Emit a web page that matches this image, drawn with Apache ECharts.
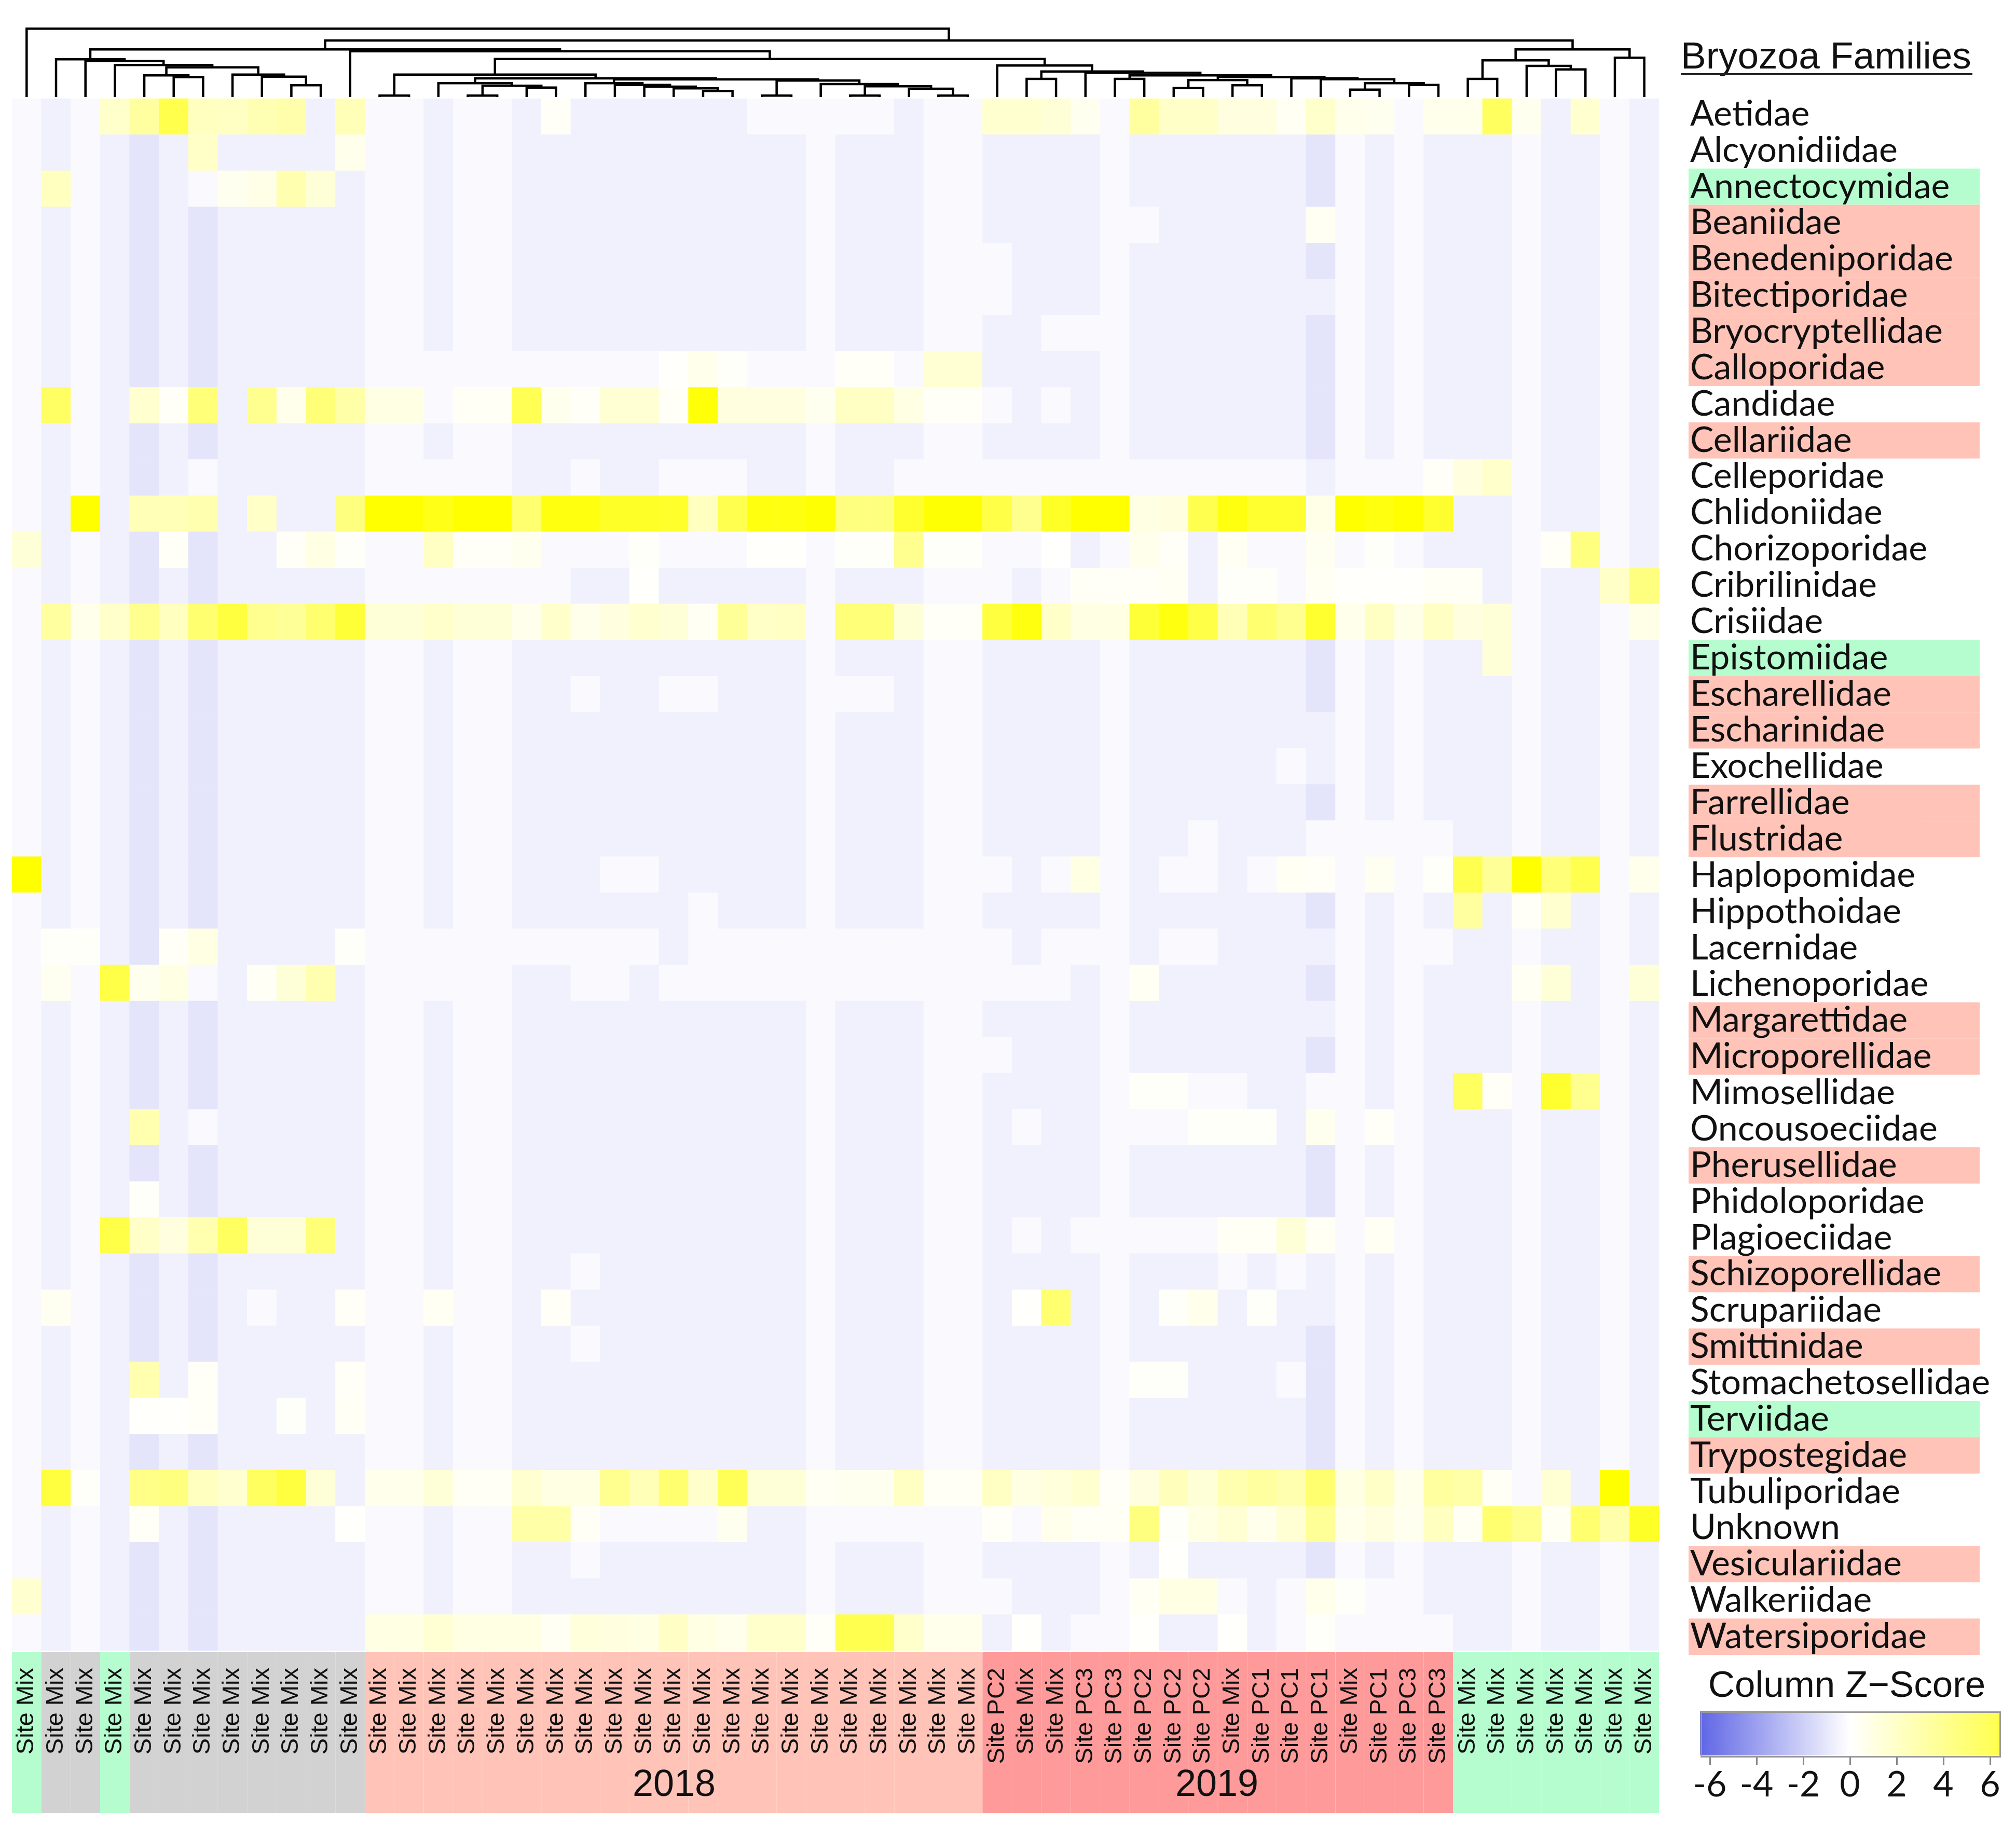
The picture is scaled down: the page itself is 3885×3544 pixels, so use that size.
<!DOCTYPE html>
<html>
<head>
<meta charset="utf-8">
<style>html,body{margin:0;padding:0;background:#fff}#c{width:3885px;height:3544px}</style>
<script src="https://cdn.jsdelivr.net/npm/echarts@6/dist/echarts.min.js"></script>
</head>
<body>
<div id="c"></div>
<script>
const families = ['Aetidae','Alcyonidiidae','Annectocymidae','Beaniidae','Benedeniporidae','Bitectiporidae','Bryocryptellidae','Calloporidae','Candidae','Cellariidae','Celleporidae','Chlidoniidae','Chorizoporidae','Cribrilinidae','Crisiidae','Epistomiidae','Escharellidae','Escharinidae','Exochellidae','Farrellidae','Flustridae','Haplopomidae','Hippothoidae','Lacernidae','Lichenoporidae','Margarettidae','Microporellidae','Mimosellidae','Oncousoeciidae','Pherusellidae','Phidoloporidae','Plagioeciidae','Schizoporellidae','Scrupariidae','Smittinidae','Stomachetosellidae','Terviidae','Trypostegidae','Tubuliporidae','Unknown','Vesiculariidae','Walkeriidae','Watersiporidae'];
const familyGroups = ['','','g','s','s','s','s','s','','s','','','','','','g','s','s','','s','s','','','','','s','s','','','s','','','s','','s','','g','s','','','s','','s'];
const sampleLabels = ['Site Mix','Site Mix','Site Mix','Site Mix','Site Mix','Site Mix','Site Mix','Site Mix','Site Mix','Site Mix','Site Mix','Site Mix',
 'Site Mix','Site Mix','Site Mix','Site Mix','Site Mix','Site Mix','Site Mix','Site Mix','Site Mix','Site Mix','Site Mix','Site Mix','Site Mix','Site Mix','Site Mix','Site Mix','Site Mix','Site Mix','Site Mix','Site Mix','Site Mix',
 'Site PC2','Site Mix','Site Mix','Site PC3','Site PC3','Site PC2','Site PC2','Site PC2','Site Mix','Site PC1','Site PC1','Site PC1','Site Mix','Site PC1','Site PC3','Site PC3',
 'Site Mix','Site Mix','Site Mix','Site Mix','Site Mix','Site Mix','Site Mix'];
const sampleGroups = ['g','k','k','g','k','k','k','k','k','k','k','k',
 's','s','s','s','s','s','s','s','s','s','s','s','s','s','s','s','s','s','s','s','s',
 'r','r','r','r','r','r','r','r','r','r','r','r','r','r','r','r',
 'g','g','g','g','g','g','g'];
const groupColors = {g:'#b5fdcf',k:'#d2d2d2',s:'#ffc3b8',r:'#ff9a9a'};
const colorbarTicks = [-6,6];

// z-score levels of the empty (zero count) cell in each column
const L=-0.24, M=-0.6, D=-1.1;
const columnEmptyZ = [L,M,L,M,D,M,D,M,M,M,M,M,L,L,M,L,L,M,M,M,M,M,M,M,M,M,M,L,M,M,M,L,L,M,M,M,M,L,M,M,M,M,M,M,D,L,M,L,M,M,M,L,M,M,L,M];

// per family: column, z-score pairs for the cells that differ from the column's empty level
const cellZ = [
/*Aetidae*/[3,1.3,4,2.4,5,4.5,6,1.6,7,1.5,8,1.9,9,2.1,11,1.8,18,.2,25,L,26,L,28,L,29,L,33,1.2,34,1.2,35,1,36,.4,38,2.4,39,1.4,40,1.4,41,.8,42,.8,43,.3,44,1.3,45,.5,46,.4,48,.5,49,.5,50,4,51,.4,53,1.2],
/*Alcyonidiidae*/[6,1.4,11,.5],
/*Annectocymidae*/[1,1.6,6,L,7,.4,8,.6,9,2,10,1],
/*Beaniidae*/[38,L,44,.3],
/*Benedeniporidae*/[33,L],
/*Bitectiporidae*/[33,L,44,M],
/*Bryocryptellidae*/[35,L,36,L],
/*Calloporidae*/[14,L,17,L,18,L,19,L,20,L,21,L,22,.1,23,.5,24,.15,25,L,26,L,28,.2,29,.2,30,L,31,1.1,32,1.1],
/*Candidae*/[1,3.9,4,1.2,5,.2,6,3.4,8,2.8,9,.5,10,3.4,11,2.2,12,.7,13,.7,14,L,15,.25,16,.25,17,4.3,18,.45,19,.2,20,1.1,21,1.1,22,.2,23,6.2,24,.8,25,.8,26,.8,27,.4,28,1.5,29,1.5,30,.7,31,.2,32,.2,33,L,35,L],
/*Cellariidae*/[],
/*Celleporidae*/[6,L,14,L,19,L,22,L,23,L,24,L,30,L,33,L,34,L,35,L,36,L,38,L,39,L,40,L,41,L,42,L,43,L,44,M,46,L,48,.2,49,.8,50,1.3],
/*Chlidoniidae*/[2,6.4,4,1.8,5,1.8,6,2,8,1.4,11,3.2,12,6.4,13,6.4,14,5.8,15,6.4,16,6.4,17,3.6,18,6,19,6,20,5.4,21,5.4,22,5.3,23,1.6,24,4.4,25,6,26,6,27,6.3,28,3.2,29,3.2,30,5.2,31,6.3,32,6.3,33,4.6,34,2.8,35,5.4,36,6.4,37,6.4,38,.7,39,.8,40,4.4,41,6,42,5.2,43,5.2,44,.6,45,6.4,46,6,47,6.4,48,5.2],
/*Chorizoporidae*/[0,1,5,.2,9,.2,10,.7,11,.15,14,1.5,15,.2,16,.2,17,.4,18,L,19,L,20,L,21,.15,22,L,23,L,24,L,25,.1,26,.1,28,.15,29,.15,30,2.8,31,.15,32,.15,33,L,34,L,35,.05,38,.5,39,.2,41,.3,42,L,43,L,44,.35,46,.15,52,.2,53,3.2],
/*Cribrilinidae*/[14,L,17,L,18,L,21,.1,33,L,35,L,36,.25,37,.2,38,.2,39,.3,41,.15,42,.15,43,L,44,.3,45,.1,46,.1,47,.1,48,.25,49,.25,54,1.4,55,3.2],
/*Crisiidae*/[1,2.4,2,.5,3,1.3,4,2.8,5,1.6,6,3.6,7,4.8,8,2.8,9,2.6,10,3.6,11,5,12,1,13,1,14,1.3,15,1,16,1,17,.5,18,1.3,19,.5,20,.8,21,1.2,22,1,23,.3,24,2.6,25,1.4,26,1.5,28,3.4,29,3.4,30,1,31,.2,32,.2,33,4.8,34,6,35,1.4,36,.7,37,.7,38,5,39,6,40,4.6,41,1.8,42,3.6,43,2.8,44,5.2,45,.5,46,1.5,47,.6,48,1.5,49,.8,50,1,55,.6],
/*Epistomiidae*/[50,1],
/*Escharellidae*/[19,L,22,L,23,L,28,L,29,L],
/*Escharinidae*/[44,M],
/*Exochellidae*/[43,L,44,M],
/*Farrellidae*/[],
/*Flustridae*/[40,L,44,L,46,L,48,L],
/*Haplopomidae*/[0,6.4,20,L,21,L,33,L,35,L,36,.7,39,L,40,L,42,L,43,.3,44,.2,46,.35,48,.15,49,4.4,50,2.6,51,6.4,52,3.4,53,4.4,55,.5],
/*Hippothoidae*/[23,L,49,2.4,51,.2,52,1.2],
/*Lacernidae*/[1,.15,2,.15,5,.2,6,.7,11,.15,14,L,17,L,18,L,19,L,20,L,21,L,23,L,24,L,25,L,26,L,28,L,29,L,30,L,33,L,35,L,36,L,39,L,40,L,44,M,48,L],
/*Lichenoporidae*/[1,.35,3,4.6,4,.4,5,.7,6,L,8,.25,9,1,10,2,14,L,19,L,20,L,22,L,23,L,24,L,25,L,26,L,28,L,29,L,30,L,33,L,34,L,35,L,38,.3,51,.3,52,1,55,1],
/*Margarettidae*/[44,M],
/*Microporellidae*/[33,L],
/*Mimosellidae*/[38,.15,39,.15,40,L,41,L,44,L,49,4,50,.2,52,5.2,53,2.8],
/*Oncousoeciidae*/[4,2,6,L,34,L,38,L,39,L,40,.15,41,.15,42,.15,44,.4,46,.2],
/*Pherusellidae*/[],
/*Phidoloporidae*/[4,.15],
/*Plagioeciidae*/[3,4.6,4,1.4,5,.8,6,2,7,4,8,1,9,1,10,3.4,34,L,36,L,37,L,38,L,39,L,40,L,41,.25,42,.25,43,1,44,.3,46,.3],
/*Schizoporellidae*/[19,L,41,L,43,L,44,M],
/*Scrupariidae*/[1,.35,8,L,11,.2,14,.3,18,.2,34,.1,35,3.6,39,.15,40,.5,42,.15,44,M],
/*Smittinidae*/[19,L],
/*Stomachetosellidae*/[4,2,6,.2,11,.2,38,.15,39,.15,43,L],
/*Terviidae*/[4,.1,5,.1,6,.2,9,.15,11,.25],
/*Trypostegidae*/[],
/*Tubuliporidae*/[1,4.8,2,.15,4,3,5,3.2,6,1.6,7,1.2,8,4,9,4.8,10,1,12,.5,13,.5,14,1,15,.25,16,.25,17,1.2,18,.7,19,.7,20,2.8,21,1.8,22,3.6,23,1.3,24,4.2,25,1,26,1,27,.3,28,.4,29,.4,30,1.5,31,.25,32,.25,33,1.5,34,.7,35,.9,36,1.2,37,.2,38,.8,39,1.7,40,1,41,2,42,2.4,43,2,44,3.6,45,.7,46,1.4,47,.5,48,2.4,49,2.2,50,.25,52,1.1,54,6.4],
/*Unknown*/[4,.2,11,.1,17,2.2,18,2.2,19,.25,20,L,21,L,22,L,23,L,24,.4,28,L,29,L,30,L,33,.2,34,L,35,.5,36,.25,37,.25,38,3.2,39,.15,40,.7,41,1.1,42,.5,43,1.1,44,2.6,45,.5,46,.8,47,.4,48,1.6,49,.3,50,3.6,51,2.8,52,.3,53,3.6,54,2.1,55,5.4],
/*Vesiculariidae*/[19,L,39,.1],
/*Walkeriidae*/[0,1.2,33,L,38,.3,39,.7,40,.7,41,L,43,L,44,.5,45,.15,46,L],
/*Watersiporidae*/[12,.7,13,.7,14,1.1,15,.7,16,.7,17,.7,18,.3,19,.9,20,.8,21,.7,22,1.45,23,.7,24,.5,25,1.3,26,1.3,27,.2,28,4.4,29,4.4,30,1.3,31,.5,32,.5,34,.1,36,L,38,.1,41,.1,43,L,44,.15,46,L,48,L]
];

// dendrogram: [height, left child, right child]; a number child is a column index
const dendrogram =
[131.7,0,[109,
  [91.7,
    [72.7,1,[69.3,2,[61.7,3,[57.3,
       [41.7,4,[38.3,5,6]],
       [43.3,7,[39.3,8,[22.7,9,10]]]]]]],
    [88.3,11,[73.3,
       [43.3,[2.7,12,13],[36,
          [26.7,14,[21.7,[2.7,15,16],[18.3,17,18]]],
          [34,
            [26.7,19,[23.3,20,[20,21,[16.7,22,[11.7,23,24]]]]],
            [31.7,[2.7,25,26],[25,27,[20.7,[2.7,28,29],[16,30,[2.7,31,32]]]]]]]],
       [60.7,33,[49.3,[35,34,35],[46.7,36,[41.7,[35,37,38],[38.3,
            [32.7,[17.3,39,40],[22.7,41,42]],
            [36,43,[34.3,44,[26.7,[14.3,45,46],[23.3,47,48]]]]]]]]]]]],
  [91.7,[70.7,[35,49,50],[60,51,[53.3,52,53]]],[75.7,54,55]]]];

const heatCells = [];
families.forEach((f, r) => {
  const row = columnEmptyZ.slice();
  const c = cellZ[r];
  for (let i = 0; i < c.length; i += 2) row[c[i]] = c[i + 1];
  row.forEach((v, k) => heatCells.push([k, r, v]));
});

const merges = [];
function walk(n) {
  if (typeof n === 'number') return {x: n + 0.5, h: 0};
  const a = walk(n[1]), b = walk(n[2]);
  merges.push([a.x, b.x, n[0], a.h, b.h]);
  return {x: (a.x + b.x) / 2, h: n[0]};
}
walk(dendrogram);

const sans = '"Liberation Sans"';
const body = 'Lato';
const chart = echarts.init(document.getElementById('c'), null, {renderer: 'canvas', width: 3885, height: 3544});
const hideCat = (data, extra) => Object.assign({type: 'category', data, show: false}, extra || {});

chart.setOption({
  animation: false,
  backgroundColor: '#ffffff',
  title: [
    {text: 'Bryozoa Families', left: 3239, top: 75, textStyle: {fontFamily: sans, fontWeight: 'normal', fontSize: 73, color: '#111'}, padding: 0},
    {text: 'Column Z\u2212Score', left: 3559, top: 3215, textAlign: 'center', textStyle: {fontFamily: sans, fontWeight: 'normal', fontSize: 71, color: '#111'}, padding: 0},
    {text: '2018', left: 1299, top: 3405, textAlign: 'center', textStyle: {fontFamily: sans, fontWeight: 'normal', fontSize: 72, color: '#111'}, padding: 0},
    {text: '2019', left: 2345, top: 3405, textAlign: 'center', textStyle: {fontFamily: sans, fontWeight: 'normal', fontSize: 72, color: '#111'}, padding: 0}
  ],
  grid: [
    {left: 23, top: 190, width: 3174, height: 2991},
    {left: 23, top: 0, width: 3174, height: 187},
    {left: 23, top: 3184, width: 3174, height: 310},
    {left: 3254, top: 185, width: 561, height: 3004},
    {left: 3295, top: 3383, width: 540, height: 1}
  ],
  xAxis: [
    hideCat(sampleLabels, {gridIndex: 0}),
    {type: 'value', gridIndex: 1, min: 0, max: 56, show: false},
    hideCat(sampleLabels, {gridIndex: 2}),
    {type: 'value', gridIndex: 3, min: 0, max: 1, show: false},
    {type: 'value', gridIndex: 4, min: colorbarTicks[0], max: colorbarTicks[1], interval: 2, splitLine: {show: false},
      axisLine: {show: false},
      axisTick: {show: true, length: 17, lineStyle: {color: '#888', width: 3}},
      axisLabel: {show: true, margin: 22, fontFamily: body, fontSize: 68, color: '#111', showMinLabel: true, showMaxLabel: true}}
  ],
  yAxis: [
    hideCat(families, {gridIndex: 0, inverse: true}),
    {type: 'value', gridIndex: 1, min: 0, max: 187, show: false},
    {type: 'value', gridIndex: 2, min: 0, max: 1, show: false},
    {type: 'category', gridIndex: 3, inverse: true, data: families, z: 10,
      axisLine: {show: false}, axisTick: {show: false}, splitLine: {show: false},
      axisLabel: {inside: true, margin: 3, align: 'left', padding: [0, 0, 4, 0], fontFamily: body, fontSize: 68, color: '#111', interval: 0}},
    {type: 'value', gridIndex: 4, min: 0, max: 1, show: false}
  ],
  visualMap: [
    {type: 'continuous', seriesIndex: 0, show: false, min: -6.4, max: 6.4, dimension: 2,
      inRange: {color: ['#5f66e5', '#ffffff', '#ffff00']}},
    {type: 'continuous', seriesIndex: 4, show: true, orient: 'horizontal', min: -6.42, max: 6.38, left: 3276, top: 3297,
      itemWidth: 86, itemHeight: 576, padding: 0, showLabel: false, calculable: false, realtime: false, text: null, hoverLink: false,
      inRange: {color: ['#5f66e5', '#ffffff', '#ffff50']}}
  ],
  graphic: [
    {type: 'rect', left: 3276, top: 3297, z: 100, shape: {width: 576, height: 86}, style: {fill: 'none', stroke: '#9a9a9a', lineWidth: 3}},
    {type: 'rect', left: 3239, top: 141, z: 100, shape: {width: 562, height: 4}, style: {fill: '#222'}}
  ],
  series: [
    {type: 'heatmap', xAxisIndex: 0, yAxisIndex: 0, data: heatCells, progressive: 0, itemStyle: {borderWidth: 0}, emphasis: {disabled: true}},
    {type: 'custom', xAxisIndex: 1, yAxisIndex: 1, data: merges, silent: true, clip: false,
      encode: {x: [0, 1], y: [2, 3, 4]},
      renderItem(params, api) {
        const xl = api.value(0), xr = api.value(1), h = api.value(2), hl = api.value(3), hr = api.value(4);
        return {type: 'polyline',
          shape: {points: [api.coord([xl, hl]), api.coord([xl, h]), api.coord([xr, h]), api.coord([xr, hr])]},
          style: {fill: null, stroke: '#000', lineWidth: 4.5}};
      }},
    {type: 'bar', xAxisIndex: 2, yAxisIndex: 2, barWidth: '100%', silent: true,
      data: sampleGroups.map((g, i) => ({value: 1, itemStyle: {color: groupColors[g], borderColor: groupColors[g], borderWidth: 1}})),
      label: {show: true, position: 'insideTop', distance: 27, rotate: 90, align: 'right', verticalAlign: 'middle', offset: [-3, 0],
        fontFamily: sans, fontSize: 47, color: '#111', formatter: p => sampleLabels[p.dataIndex]}},
    {type: 'bar', xAxisIndex: 3, yAxisIndex: 3, barWidth: '100%', silent: true,
      data: familyGroups.map(g => g ? {value: 1, itemStyle: {color: groupColors[g], borderColor: groupColors[g], borderWidth: 1}} : {value: 0, itemStyle: {color: 'transparent'}})},
    {type: 'scatter', xAxisIndex: 4, yAxisIndex: 4, data: [], silent: true}
  ]
});
</script>
</body>
</html>
